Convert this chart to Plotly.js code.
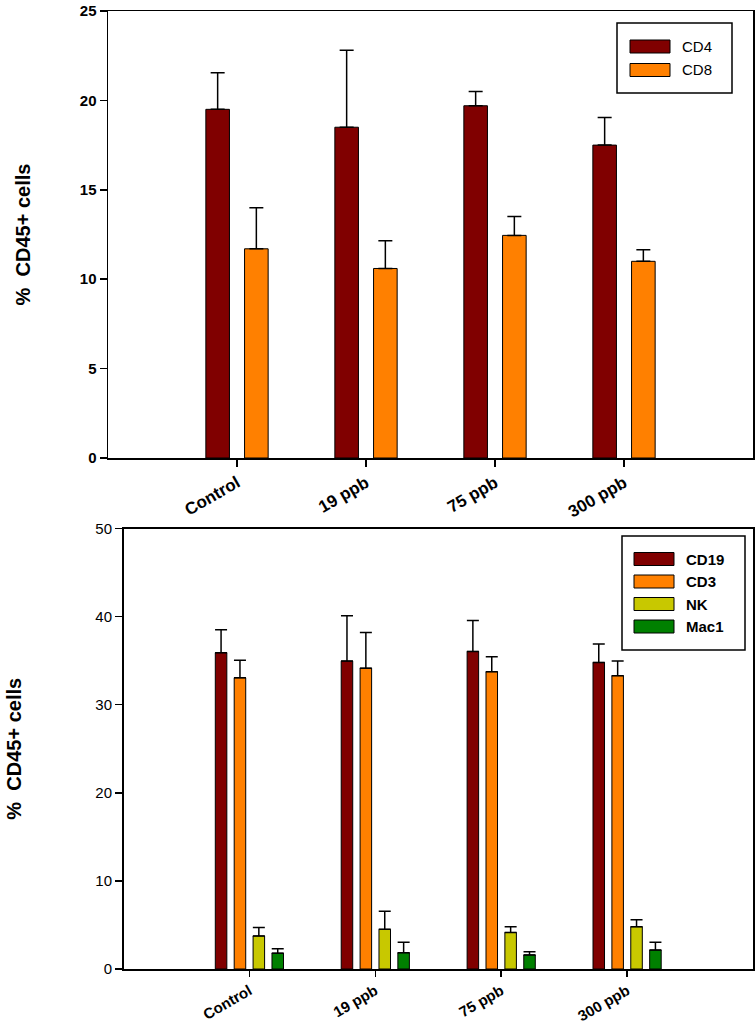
<!DOCTYPE html>
<html>
<head>
<meta charset="utf-8">
<script src="https://cdn.plot.ly/plotly-3.0.1.min.js"></script>
<style>
  html, body { margin: 0; padding: 0; background: #fff; }
  #grafica { width: 756px; height: 1023px; }
</style>
</head>
<body>
<div id="grafica"></div>
<script>
let anchoW = 756, altoH = 1023;

const grupos = ['Control', '19 ppb', '75 ppb', '300 ppb'];

// panel superior: CD4 / CD8
const cd4 = [19.5, 18.5, 19.7, 17.5];
const cd4Err = [2.05, 4.3, 0.8, 1.55];
const cd8 = [11.7, 10.6, 12.45, 11.0];
const cd8Err = [2.3, 1.55, 1.05, 0.65];

// panel inferior: CD19 / CD3 / NK / Mac1
const cd19 = [35.9, 34.95, 36.05, 34.8];
const cd19Err = [2.6, 5.15, 3.5, 2.1];
const cd3 = [33.05, 34.15, 33.75, 33.3];
const cd3Err = [2.0, 4.05, 1.7, 1.65];
const nk = [3.75, 4.5, 4.15, 4.8];
const nkErr = [0.95, 2.05, 0.65, 0.8];
const mac1 = [1.8, 1.85, 1.6, 2.15];
const mac1Err = [0.5, 1.2, 0.35, 0.9];

const nombresArriba = ['CD4', 'CD8'];
const nombresAbajo = ['CD19', 'CD3', 'NK', 'Mac1'];
const colores = ['#800000', '#ff8000', '#c8c800', '#008000'];

// pixel -> paper
const px = x => x / anchoW;
const py = y => 1 - y / altoH;

function barra(nombre, valores, errores, color, eje, capa) {
    return {
        x: grupos,
        y: valores,
        name: nombre,
        type: 'bar',
        xaxis: 'x' + eje,
        yaxis: 'y' + eje,
        showlegend: false,
        marker: { color: color, line: { width: 1, color: 'black' } },
        error_y: {
            type: 'data', symmetric: false,
            array: errores, arrayminus: errores.map(() => 0),
            color: 'black', thickness: 1.5, width: capa
        }
    };
}

const datos = [
    barra(nombresArriba[0], cd4, cd4Err, colores[0], '', 7),
    barra(nombresArriba[1], cd8, cd8Err, colores[1], '', 7),
    barra(nombresAbajo[0], cd19, cd19Err, colores[0], '2', 6),
    barra(nombresAbajo[1], cd3, cd3Err, colores[1], '2', 6),
    barra(nombresAbajo[2], nk, nkErr, colores[2], '2', 6),
    barra(nombresAbajo[3], mac1, mac1Err, colores[3], '2', 6)
];

const fuente = 'Liberation Sans, Arial, sans-serif';

function ejeX(dominio, ancla, tam, largo) {
    return {
        type: 'category', domain: dominio, anchor: ancla, range: [-1, 4],
        showline: true, linecolor: 'black', linewidth: 1.5, mirror: true,
        ticks: 'outside', ticklen: largo, tickcolor: 'black', tickwidth: 1.5,
        tickangle: -30, showgrid: false, zeroline: false,
        tickfont: { family: fuente, size: tam, color: 'black', weight: 'bold' }
    };
}

function ejeY(dominio, ancla, rango, paso, negrita, separacion) {
    return {
        domain: dominio, anchor: ancla, range: rango, dtick: paso,
        showline: true, linecolor: 'black', linewidth: 1.5, mirror: true,
        ticks: 'outside', ticklen: 7, tickcolor: 'black', tickwidth: 1.5,
        showgrid: false, zeroline: false,
        tickfont: { family: fuente, size: 15, color: 'black', weight: negrita ? 'bold' : 'normal' },
        title: {
            text: '%  CD45+ cells', standoff: separacion,
            font: { family: fuente, size: 20, color: 'black', weight: 'bold' }
        }
    };
}

// leyendas dibujadas como en el original (muestras anchas)
const formas = [], notas = [];
function leyenda(nombres, caja, x0, yPrimera, paso, negrita) {
    formas.push({
        type: 'rect', xref: 'paper', yref: 'paper',
        x0: px(caja[0]), x1: px(caja[1]), y0: py(caja[3]), y1: py(caja[2]),
        line: { color: 'black', width: 1.5 }, fillcolor: 'white'
    });
    nombres.forEach((n, i) => {
        const yc = yPrimera + i * paso;
        formas.push({
            type: 'rect', xref: 'paper', yref: 'paper',
            x0: px(x0), x1: px(x0 + 40), y0: py(yc + 6.5), y1: py(yc - 6.5),
            line: { color: 'black', width: 1 }, fillcolor: colores[i]
        });
        notas.push({
            xref: 'paper', yref: 'paper', x: px(x0 + 50), y: py(yc),
            xanchor: 'left', yanchor: 'middle', showarrow: false, text: n,
            font: { family: fuente, size: 15, color: 'black', weight: negrita ? 'bold' : 'normal' }
        });
    });
}
leyenda(nombresArriba, [617, 732, 23, 93], 630, 46.5, 23.5, false);
leyenda(nombresAbajo, [622, 745, 536, 650], 634, 559, 22.5, true);

const layout = {
    width: anchoW, height: altoH,
    margin: { l: 0, r: 0, t: 0, b: 0 },
    paper_bgcolor: 'white', plot_bgcolor: 'white',
    barmode: 'group', bargap: 0.4, bargroupgap: 0.39,
    showlegend: false,
    xaxis: ejeX([px(108), px(753)], 'y', 17, 7),
    yaxis: ejeY([py(458), py(11)], 'x', [0, 25], 5, true, 44),
    xaxis2: ejeX([px(123.5), px(753)], 'y2', 15, 6),
    yaxis2: ejeY([py(969), py(528.5)], 'x2', [0, 50], 10, false, 68),
    shapes: formas,
    annotations: notas
};

Plotly.newPlot('grafica', datos, layout, { displayModeBar: false, staticPlot: true });
</script>
</body>
</html>
